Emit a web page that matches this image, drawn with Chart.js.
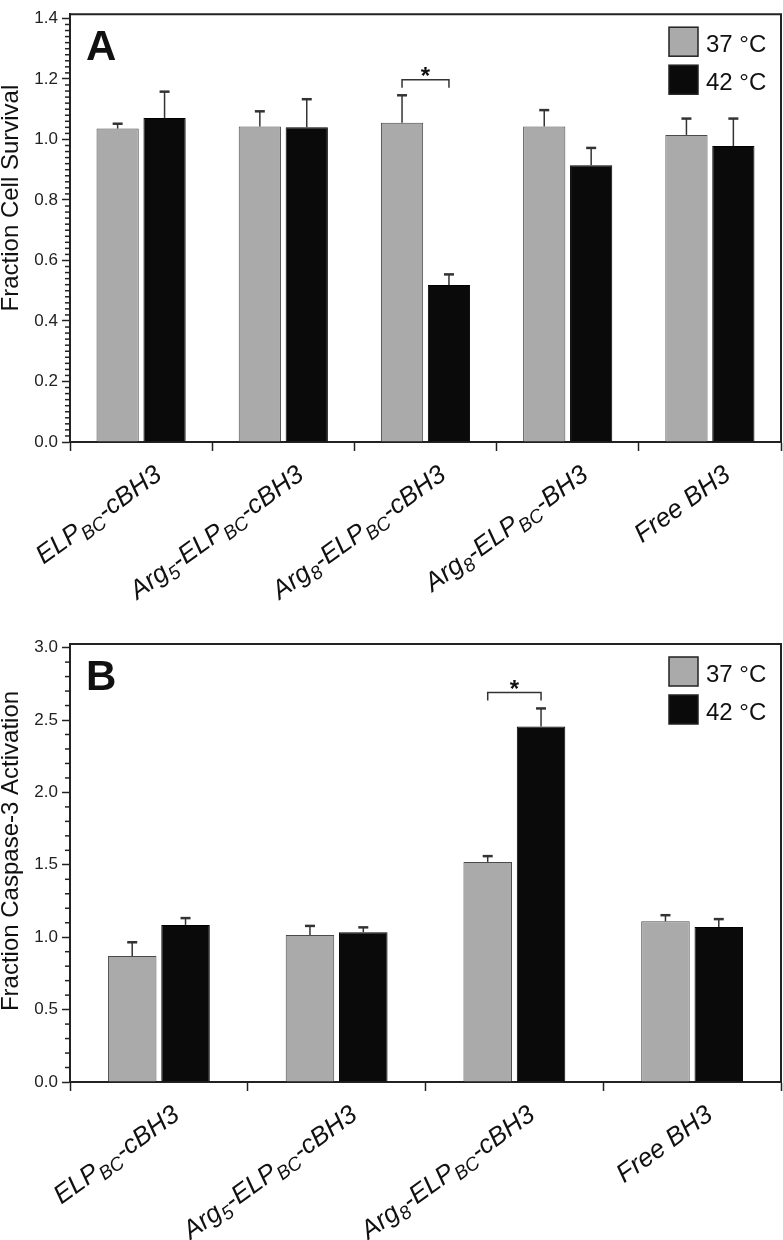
<!DOCTYPE html>
<html>
<head>
<meta charset="utf-8">
<script src="https://cdn.jsdelivr.net/npm/chart.js@4.4.1/dist/chart.umd.min.js"></script>
<style>
	body { margin: 0; background: #fff; }
	canvas { display: block; }
</style>
</head>
<body>
<canvas id="survivalChart" width="783" height="610"></canvas>
<canvas id="caspaseChart" width="783" height="630"></canvas>
<script>
// panel A data
const survivalLabels = ["ELP{BC}-cBH3", "Arg{5}-ELP{BC}-cBH3", "Arg{8}-ELP{BC}-cBH3", "Arg{8}-ELP{BC}-BH3", "Free BH3"];
const survival37 = [1.036, 1.043, 1.055, 1.043, 1.015];
const survival37Err = [0.016, 0.05, 0.091, 0.054, 0.054];
const survival42 = [1.071, 1.04, 0.519, 0.915, 0.978];
const survival42Err = [0.087, 0.093, 0.035, 0.057, 0.091];
const survivalTicks = [0, 0.2, 0.4, 0.6, 0.8, 1.0, 1.2, 1.4];

// panel B data
const caspaseLabels = ["ELP{BC}-cBH3", "Arg{5}-ELP{BC}-cBH3", "Arg{8}-ELP{BC}-cBH3", "Free BH3"];
const caspase37 = [0.87, 1.015, 1.52, 1.11];
const caspase37Err = [0.095, 0.063, 0.04, 0.042];
const caspase42 = [1.085, 1.035, 2.455, 1.07];
const caspase42Err = [0.047, 0.033, 0.125, 0.055];
const caspaseTicks = [0, 0.5, 1.0, 1.5, 2.0, 2.5, 3.0];

const seriesNames = ["37 °C", "42 °C"];
const GRAY = "#aaaaaa";
const BLACK = "#0a0a0a";
const INK = "#222";
const LABEL_FONT = "italic 26px 'Liberation Sans', Arial, sans-serif";
const SUB_FONT = "italic 19px 'Liberation Sans', Arial, sans-serif";

// draws a rotated label, text between braces is a subscript
function drawCategoryLabel(ctx, text, ax, ay, angle) {
	const parts = text.split(/[{}]/);
	const widths = parts.map((p, i) => {
		ctx.font = i % 2 ? SUB_FONT : LABEL_FONT;
		return ctx.measureText(p).width;
	});
	const total = widths.reduce((a, b) => a + b, 0);
	ctx.save();
	ctx.translate(ax, ay);
	ctx.rotate((-angle * Math.PI) / 180);
	ctx.textAlign = "left";
	ctx.textBaseline = "alphabetic";
	let cur = -total;
	parts.forEach((p, i) => {
		ctx.font = i % 2 ? SUB_FONT : LABEL_FONT;
		ctx.fillText(p, cur, i % 2 ? 6 : 0);
		cur += widths[i];
	});
	ctx.restore();
}

const panelPlugin = {
	id: "panel",
	afterDatasetsDraw(chart, args, opts) {
		const ctx = chart.ctx;
		const y = chart.scales.y;
		ctx.save();
		ctx.strokeStyle = "#333";
		// error bars (upper only)
		chart.data.datasets.forEach((ds, di) => {
			const meta = chart.getDatasetMeta(di);
			meta.data.forEach((bar, i) => {
				const top = y.getPixelForValue(ds.data[i] + ds.errors[i]);
				ctx.lineWidth = 1.5;
				ctx.beginPath();
				ctx.moveTo(bar.x, bar.y);
				ctx.lineTo(bar.x, top);
				ctx.stroke();
				ctx.lineWidth = 2.5;
				ctx.beginPath();
				ctx.moveTo(bar.x - 5, top);
				ctx.lineTo(bar.x + 5, top);
				ctx.stroke();
			});
		});
		ctx.restore();
	},
	afterDraw(chart, args, opts) {
		const ctx = chart.ctx;
		const area = chart.chartArea;
		const x = chart.scales.x;
		const y = chart.scales.y;
		ctx.save();

		// frame top + right
		ctx.strokeStyle = INK;
		ctx.lineWidth = 2;
		ctx.beginPath();
		ctx.moveTo(area.left, area.top);
		ctx.lineTo(area.right, area.top);
		ctx.lineTo(area.right, area.bottom);
		ctx.stroke();

		// minor ticks on y axis
		ctx.lineWidth = 1.5;
		const n = Math.round(y.max / opts.minorStep);
		for (let k = 0; k <= n; k++) {
			const v = k * opts.minorStep;
			if (v > y.max) break;
			const r = v / opts.majorStep;
			if (Math.abs(r - Math.round(r)) < 1e-6) continue;
			const py = y.getPixelForValue(v);
			ctx.beginPath();
			ctx.moveTo(area.left - 5, py);
			ctx.lineTo(area.left, py);
			ctx.stroke();
		}

		// panel letter
		ctx.fillStyle = "#111";
		ctx.font = "bold 42px 'Liberation Sans', Arial, sans-serif";
		ctx.textAlign = "left";
		ctx.textBaseline = "alphabetic";
		ctx.fillText(opts.letter, area.left + 16, area.top + 46);

		// legend
		chart.data.datasets.forEach((ds, i) => {
			const bx = area.right - 112;
			const by = area.top + 13 + i * 38;
			ctx.fillStyle = ds.backgroundColor;
			ctx.fillRect(bx, by, 29, 29);
			ctx.strokeStyle = INK;
			ctx.lineWidth = 1.5;
			ctx.strokeRect(bx, by, 29, 29);
			ctx.fillStyle = "#111";
			ctx.font = "24px 'Liberation Sans', Arial, sans-serif";
			ctx.fillText(ds.label, bx + 37, by + 25);
		});

		// significance bracket
		const g = chart.getDatasetMeta(0).data[opts.sigIndex];
		const b = chart.getDatasetMeta(1).data[opts.sigIndex];
		const sy = y.getPixelForValue(opts.sigLevel);
		ctx.strokeStyle = "#333";
		ctx.lineWidth = 1.5;
		ctx.beginPath();
		ctx.moveTo(g.x, sy + 8);
		ctx.lineTo(g.x, sy);
		ctx.lineTo(b.x, sy);
		ctx.lineTo(b.x, sy + 8);
		ctx.stroke();
		ctx.fillStyle = "#111";
		ctx.font = "bold 24px 'Liberation Sans', Arial, sans-serif";
		ctx.textAlign = "center";
		ctx.fillText("*", (g.x + b.x) / 2, sy + 4);

		// category labels
		ctx.fillStyle = "#111";
		chart.data.labels.forEach((lab, i) => {
			const cx = x.getPixelForValue(i);
			drawCategoryLabel(ctx, lab, cx + 22, area.bottom + 36, 36);
		});

		// y axis title
		ctx.save();
		ctx.translate(11, (area.top + area.bottom) / 2 + opts.titleShift);
		ctx.rotate(-Math.PI / 2);
		ctx.font = "24px 'Liberation Sans', Arial, sans-serif";
		ctx.textAlign = "center";
		ctx.textBaseline = "middle";
		ctx.fillText(opts.yTitle, 0, 0);
		ctx.restore();

		ctx.restore();
	},
};

function makeChart(canvasId, labels, v37, e37, v42, e42, yTicks, yMax, setup) {
	return new Chart(document.getElementById(canvasId), {
		type: "bar",
		data: {
			labels: labels,
			datasets: [
				{
					label: seriesNames[0],
					data: v37,
					errors: e37,
					backgroundColor: GRAY,
					borderColor: "#4a4a4a",
					borderWidth: 1,
					categoryPercentage: setup.catPct,
					barPercentage: setup.barPct,
				},
				{
					label: seriesNames[1],
					data: v42,
					errors: e42,
					backgroundColor: BLACK,
					borderColor: "#000",
					borderWidth: 1,
					categoryPercentage: setup.catPct,
					barPercentage: setup.barPct,
				},
			],
		},
		options: {
			responsive: false,
			animation: false,
			devicePixelRatio: 1,
			layout: { padding: { top: setup.top, right: 2, left: 0, bottom: 0 } },
			plugins: {
				legend: { display: false },
				tooltip: { enabled: false },
				panel: setup.panel,
			},
			scales: {
				x: {
					ticks: { display: false },
					grid: { drawOnChartArea: false, offset: true, tickLength: 9, tickColor: INK, tickWidth: 1.5 },
					border: { color: INK, width: 2 },
					afterFit: (scale) => { scale.height = setup.xHeight; },
				},
				y: {
					min: 0,
					max: yMax,
					afterBuildTicks: (scale) => { scale.ticks = yTicks.map((v) => ({ value: v })); },
					ticks: {
						color: INK,
						padding: 4,
						font: { family: "'Liberation Sans Narrow', 'Liberation Sans', Arial, sans-serif", size: 17 },
						callback: (v) => Number(v).toFixed(1),
					},
					grid: { drawOnChartArea: false, tickLength: 8, tickColor: INK, tickWidth: 1.5 },
					border: { color: INK, width: 2 },
					afterFit: (scale) => { scale.width = 70; },
				},
			},
		},
		plugins: [panelPlugin],
	});
}

var survivalChart = makeChart("survivalChart", survivalLabels, survival37, survival37Err, survival42, survival42Err, survivalTicks, 1.414, {
	top: 3,
	xHeight: 168,
	catPct: 0.66,
	barPct: 0.9,
	panel: { letter: "A", minorStep: 0.02, majorStep: 0.2, sigIndex: 2, sigLevel: 1.197, yTitle: "Fraction Cell Survival", titleShift: -30 },
});

var caspaseChart = makeChart("caspaseChart", caspaseLabels, caspase37, caspase37Err, caspase42, caspase42Err, caspaseTicks, 3.025, {
	top: 34,
	xHeight: 158,
	catPct: 0.6,
	barPct: 0.91,
	panel: { letter: "B", minorStep: 0.1, majorStep: 0.5, sigIndex: 2, sigLevel: 2.69, yTitle: "Fraction Caspase-3 Activation", titleShift: -12 },
});
</script>
</body>
</html>
